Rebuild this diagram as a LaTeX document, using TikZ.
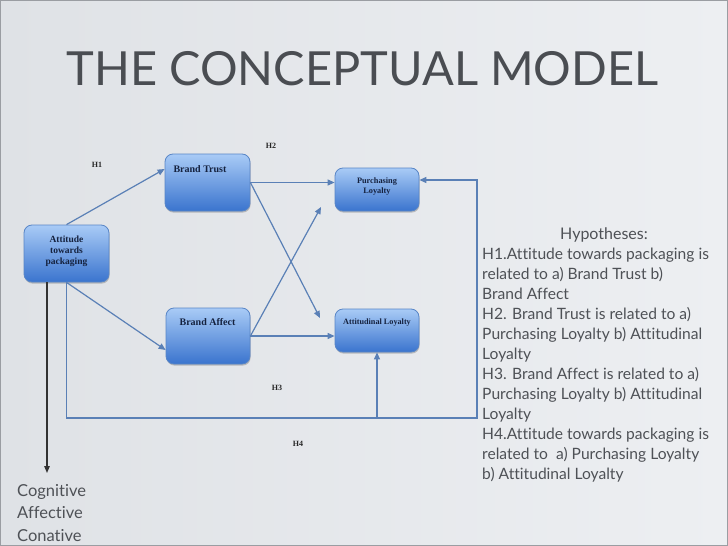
\documentclass[tikz,border=0pt]{standalone}
\usepackage{fontspec}
\setmainfont{Lato}[Ligatures={NoCommon}]
\newfontfamily\boxfont{Liberation Serif}
\usetikzlibrary{arrows.meta,shadows,calc}
\definecolor{bgL}{HTML}{DFE2E6}
\definecolor{bgR}{HTML}{EDEFF2}
\definecolor{framec}{HTML}{9A9DA2}
\definecolor{boxtop}{HTML}{A9CBF6}
\definecolor{boxbot}{HTML}{3A74CE}
\definecolor{boxline}{HTML}{5885C6}
\definecolor{linkc}{HTML}{5A80B6}
\definecolor{navy}{HTML}{15223F}
\definecolor{titlec}{HTML}{4A4D52}
\definecolor{textc}{HTML}{4E5156}
\begin{document}
\begin{tikzpicture}[x=1pt,y=-1pt,
  conbox/.style={draw=boxline, line width=0.8pt, rounded corners=8pt,
    top color=boxtop, bottom color=boxbot, minimum width=85pt,
    minimum height=57pt, inner sep=0pt,
    drop shadow={shadow xshift=0.6pt, shadow yshift=-1.6pt, opacity=0.3, fill=black!70}},
  boxtxt/.style={text=navy, inner sep=0pt, align=center},
  hlab/.style={text=black!85, inner sep=0pt, font=\boxfont\bfseries\fontsize{8}{10}\selectfont},
  link/.style={draw=linkc, line width=1.2pt, -{Triangle[length=7pt,width=6pt]}},
  darklink/.style={draw=black!80, line width=1.2pt, -{Triangle[length=7pt,width=5.5pt]}},
  sidetxt/.style={text=textc, inner sep=0pt, align=left}
]
\useasboundingbox (0,0) rectangle (728,546);
\shade[left color=bgL, right color=bgR] (0,0) rectangle (728,546);
\draw[framec, line width=2.4pt] (0,0) rectangle (728,546);

% title
\node[text=titlec, inner sep=0pt, anchor=base, font=\fontsize{47}{56}\selectfont] (title) at (362.5,85) {THE CONCEPTUAL MODEL};

% boxes
\node[conbox] (att) at (66.5,253.5) {};
\node[conbox] (bt) at (207.5,182.5) {};
\node[conbox, minimum width=84pt, minimum height=43pt] (pl) at (377,189.5) {};
\node[conbox, minimum width=84pt, minimum height=56pt] (ba) at (208,336) {};
\node[conbox, minimum width=84pt, minimum height=43pt] (al) at (377,330.5) {};

% box labels
\node[boxtxt, font=\boxfont\bfseries\fontsize{9.5}{11}\selectfont] (attl) at (66.5,251) {Attitude\\towards\\packaging};
\node[boxtxt, font=\boxfont\bfseries\fontsize{10}{11}\selectfont] (btl) at (200,169) {Brand Trust};
\node[boxtxt, font=\boxfont\bfseries\fontsize{8.3}{10}\selectfont] (pll) at (377,187) {Purchasing\\Loyalty};
\node[boxtxt, font=\boxfont\bfseries\fontsize{10}{11}\selectfont] (bal) at (207.5,322) {Brand Affect};
\node[boxtxt, font=\boxfont\bfseries\fontsize{8.2}{10}\selectfont] (all) at (377,323) {Attitudinal Loyalty};

% hypothesis labels
\node[hlab] (h1) at (97,165) {H1};
\node[hlab] (h2) at (271,146) {H2};
\node[hlab] (h3) at (277,388) {H3};
\node[hlab] (h4) at (298,444) {H4};

% coordinates
\coordinate (c1) at (66.5,418);
\coordinate (c2) at (477,418);
\coordinate (c3) at (477,180);
\coordinate (x1) at (320,318);
\coordinate (x2) at (321,207);
\coordinate (cog) at (47,473);

% connectors
\draw[link] (att.north) -- ([yshift=13.5pt]bt.west);
\draw[link] (att.south) -- ([yshift=-14pt]ba.west);
\draw[link] (bt.east) -- (bt.east -| pl.west);
\draw[link] (bt.east) -- (x1);
\draw[link] (ba.east) -- (x2);
\draw[link] (ba.east) -- (ba.east -| al.west);
\draw[link] (att.south) -- (c1) -- (c2) -- (c3) -- (c3 -| pl.east);
\draw[link] (al.south |- c1) -- (al.south);
\draw[darklink] ([xshift=-19.5pt]att.south) -- (cog);

% side texts
\node[sidetxt, anchor=north west, font=\fontsize{16.5}{22.5}\selectfont] (cogt) at (17,484) {Cognitive\\Affective\\Conative};
\node[text=textc, inner sep=0pt, font=\fontsize{16}{20}\selectfont] (hyp) at (604,235) {Hypotheses:};
\node[sidetxt, anchor=north west, font=\fontsize{15.6}{20}\selectfont] (hyptxt) at (482,248) {H1.Attitude towards packaging is\\related to a) Brand Trust b)\\Brand Affect\\H2. Brand Trust is related to a)\\Purchasing Loyalty b) Attitudinal\\Loyalty\\H3. Brand Affect is related to a)\\Purchasing Loyalty b) Attitudinal\\Loyalty\\H4.Attitude towards packaging is\\related to~ a) Purchasing Loyalty\\b) Attitudinal Loyalty};
\end{tikzpicture}
\end{document}
